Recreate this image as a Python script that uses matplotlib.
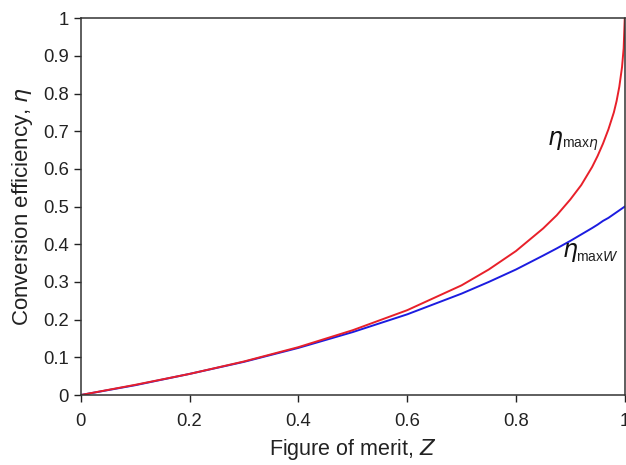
import numpy as np
import matplotlib
matplotlib.use("Agg")
from matplotlib import pyplot as plt

plt.rcParams['font.family'] = ['Liberation Sans', 'DejaVu Sans']
plt.rcParams['mathtext.fontset'] = 'dejavusans'

# values
z = [0, 0.1, 0.2, 0.3, 0.4, 0.5, 0.6, 0.7, 0.75, 0.8, 0.85, 0.875, 0.9,
     0.92, 0.94, 0.95, 0.96, 0.97, 0.98, 0.985, 0.99, 0.995, 0.998, 1.0]
eta_max_eta = [0, 0.027, 0.056, 0.089, 0.127, 0.172, 0.225, 0.291, 0.333,
               0.382, 0.442, 0.477, 0.519, 0.557, 0.605, 0.634, 0.667,
               0.705, 0.75, 0.78, 0.818, 0.87, 0.92, 1.0]
eta_max_w = [0, 0.026, 0.056, 0.088, 0.125, 0.167, 0.214, 0.269, 0.30,
             0.333, 0.37, 0.389, 0.409, 0.426, 0.443, 0.452, 0.462, 0.47,
             0.48, 0.485, 0.49, 0.495, 0.498, 0.5]

x_ticks = [0, 0.2, 0.4, 0.6, 0.8, 1]
x_labels = ['0', '0.2', '0.4', '0.6', '0.8', '1']
y_ticks = [0, 0.1, 0.2, 0.3, 0.4, 0.5, 0.6, 0.7, 0.8, 0.9, 1]
y_labels = ['0', '0.1', '0.2', '0.3', '0.4', '0.5', '0.6', '0.7', '0.8', '0.9', '1']

fig = plt.figure(figsize=(6.26, 4.65), dpi=100)
ax = fig.add_axes([0.129, 0.1505, 0.869, 0.8105])

ax.plot(z, eta_max_w, color='#1c1ce0', lw=1.4)
ax.plot(z, eta_max_eta, color='#e8202a', lw=1.4)

ax.set_xlim(0, 1)
ax.set_ylim(0, 1)
ax.set_xticks(x_ticks)
ax.set_xticklabels(x_labels)
ax.set_yticks(y_ticks)
ax.set_yticklabels(y_labels)
ax.tick_params(direction='out', length=5, width=1, labelsize=13.3, colors='#222222')
ax.tick_params(axis='x', pad=8)
for s in ax.spines.values():
    s.set_linewidth(1.1)
    s.set_color('#333333')

ax.set_xlabel('Figure of merit, $\\it{Z}$', fontsize=15.5, color='#222222', labelpad=5)
ax.set_ylabel('Conversion efficiency, $\\it{\\eta}$', fontsize=16, color='#222222', labelpad=6)

# curve labels
ax.text(0.857, 0.676, r'$\it{\eta}$', fontsize=17, color='#111111', va='center', ha='left')
ax.text(0.885, 0.664, 'max$\\it{\\eta}$', fontsize=10, color='#222222', va='center', ha='left')

ax.text(0.884, 0.377, r'$\it{\eta}$', fontsize=17, color='#111111', va='center', ha='left')
ax.text(0.910, 0.366, 'max$\\it{W}$', fontsize=10, color='#222222', va='center', ha='left')

fig.savefig('out.png', dpi=100)
